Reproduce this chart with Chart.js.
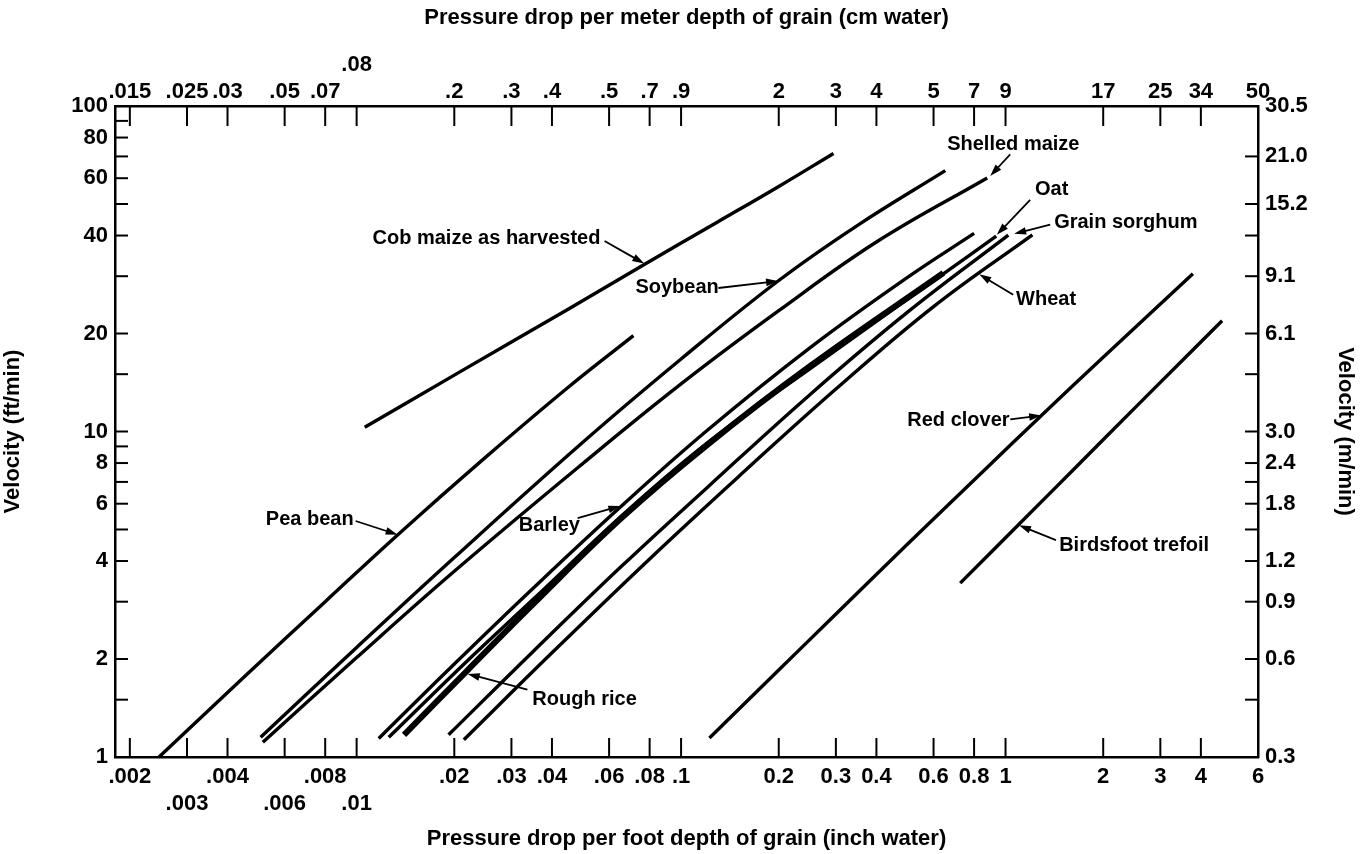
<!DOCTYPE html>
<html>
<head>
<meta charset="utf-8">
<script src="https://cdn.jsdelivr.net/npm/chart.js@4.4.1/dist/chart.umd.min.js"></script>
<style>
  html, body { margin: 0; padding: 0; background: #fff; }
</style>
</head>
<body>
<canvas id="c" width="1361" height="854"></canvas>
<script>
/* ── Curves: pressure drop (in. water / ft) vs velocity (ft/min) ── */
const cobX      = [0.01059, 0.02, 0.045, 0.077, 0.13, 0.2, 0.295];
const cobY      = [10.3, 14.9, 23.8, 32.6, 44.1, 56.6, 71.5];
const peaX      = [0.00246, 0.00455, 0.008, 0.0134, 0.025, 0.045, 0.0713];
const peaY      = [1, 1.78, 3.0, 4.82, 8.34, 13.7, 19.7];
const soyX      = [0.00506, 0.01, 0.02, 0.05, 0.1, 0.2, 0.35, 0.652];
const soyY      = [1.15, 2.17, 4.1, 9.3, 16.7, 29.1, 43, 63.3];
const shelledX  = [0.00514, 0.01, 0.02, 0.05, 0.1, 0.2, 0.4, 0.878];
const shelledY  = [1.11, 2.02, 3.72, 8.0, 14.0, 23.5, 38.2, 60.1];
const barleyX   = [0.0117, 0.02, 0.035, 0.065, 0.12, 0.25, 0.5, 0.8];
const barleyY   = [1.14, 1.93, 3.3, 5.86, 10.05, 18.1, 29.8, 40.6];
const oatX      = [0.01256, 0.022, 0.035, 0.0655, 0.12, 0.25, 0.643, 0.936];
const oatY      = [1.15, 1.98, 3.05, 5.5, 9.2, 15.6, 30.5, 39.8];
const riceX     = [0.014, 0.022, 0.035, 0.0655, 0.12, 0.25, 0.643];
const riceY     = [1.17, 1.85, 2.95, 5.42, 9.07, 15.9, 30.7];
const sorghumX  = [0.0192, 0.035, 0.066, 0.12, 0.25, 0.5, 1.02];
const sorghumY  = [1.17, 2.11, 3.88, 6.71, 13.0, 23.3, 40.1];
const wheatX    = [0.0214, 0.04, 0.08, 0.15, 0.3, 0.6, 1.21];
const wheatY    = [1.13, 2.09, 4.06, 7.25, 13.5, 24.2, 40.2];
const cloverX   = [0.1223, 0.2, 0.29, 0.5, 0.86, 1.29, 2.0, 3.78];
const cloverY   = [1.144, 1.85, 2.66, 4.52, 7.6, 11.2, 16.9, 30.5];
const trefoilX  = [0.725, 1.1, 1.65, 2.5, 3.5, 4.65];
const trefoilY  = [3.42, 5.19, 7.78, 11.8, 16.5, 21.9];

/* ── Axis ticks ── */
const bottomTicks  = [0.002, 0.003, 0.004, 0.006, 0.008, 0.01, 0.02, 0.03, 0.04, 0.06, 0.08, 0.1,
                      0.2, 0.3, 0.4, 0.6, 0.8, 1, 2, 3, 4, 6];
const bottomLabels = ['.002', '.003', '.004', '.006', '.008', '.01', '.02', '.03', '.04', '.06', '.08', '.1',
                      '0.2', '0.3', '0.4', '0.6', '0.8', '1', '2', '3', '4', '6'];
const bottomLow    = ['.003', '.006', '.01'];
const topLabels    = ['.015', '.025', '.03', '.05', '.07', '.08', '.2', '.3', '.4', '.5', '.7', '.9',
                      '2', '3', '4', '5', '7', '9', '17', '25', '34', '50'];
const topHigh      = ['.08'];
const leftTicks    = [1, 1.5, 2, 3, 4, 5, 6, 7, 8, 9, 10, 15, 20, 30, 40, 50, 60, 70, 80, 90, 100];
const leftLabelled = [1, 2, 4, 6, 8, 10, 20, 40, 60, 80, 100];
const rightTicks   = [1, 1.5, 2, 3, 4, 5, 6, 7, 8, 10, 15, 20, 30, 40, 50, 70, 100];
const rightLabels  = ['0.3', '', '0.6', '0.9', '1.2', '', '1.8', '', '2.4', '3.0', '', '6.1', '9.1', '', '15.2', '21.0', '30.5'];

/* ── Callouts (data coords: text anchor, arrow tail, arrow tip) ── */
const notes = [
  { text: 'Cob maize as harvested', at: [0.0564, 39.3], align: 'right', from: [0.0581, 38.5], to: [0.077, 32.8] },
  { text: 'Soybean',           at: [0.0723, 27.6],  align: 'left', from: [0.1303, 27.6], to: [0.199, 29.0] },
  { text: 'Shelled maize',     at: [0.661, 76],     align: 'left', from: [1.034, 71],    to: [0.897, 61.0] },
  { text: 'Oat',               at: [1.233, 55.5],   align: 'left', from: [1.191, 51.5],  to: [0.94, 40.2] },
  { text: 'Grain sorghum',     at: [1.412, 44.0],   align: 'left', from: [1.373, 43.2],  to: [1.063, 40.5] },
  { text: 'Wheat',             at: [1.078, 25.5],   align: 'left', from: [1.056, 26.3],  to: [0.830, 30.4] },
  { text: 'Red clover',        at: [0.498, 10.8],   align: 'left', from: [1.034, 10.9],  to: [1.288, 11.2] },
  { text: 'Pea bean',          at: [0.00525, 5.35], align: 'left', from: [0.00993, 5.31], to: [0.01338, 4.82] },
  { text: 'Barley',            at: [0.0316, 5.16],  align: 'left', from: [0.048, 5.42],  to: [0.065, 5.9] },
  { text: 'Rough rice',        at: [0.0348, 1.5],   align: 'left', from: [0.0336, 1.61], to: [0.022, 1.8] },
  { text: 'Birdsfoot trefoil', at: [1.463, 4.45],   align: 'left', from: [1.43, 4.64],   to: [1.10, 5.15] }
];

const FONT = 'Liberation Sans, Arial, sans-serif';
const pts = (xs, ys) => xs.map((x, i) => ({ x: x, y: ys[i] }));

function curve(xs, ys, w) {
  return {
    data: pts(xs, ys),
    borderColor: '#000',
    borderWidth: w || 3.4,
    pointRadius: 0,
    tension: 0.4,
    fill: false
  };
}

/* inward tick marks on all four sides */
const inwardTicks = {
  id: 'inwardTicks',
  afterDatasetsDraw(chart) {
    const ctx = chart.ctx, a = chart.chartArea;
    const sides = { x: [0, -1, a.bottom, 19], x2: [0, 1, a.top, 20], y: [1, 0, a.left, 13], y2: [-1, 0, a.right, 13] };
    ctx.save();
    ctx.strokeStyle = '#000';
    ctx.lineWidth = 2;
    for (const id in sides) {
      const s = chart.scales[id];
      const [dx, dy, base, len] = sides[id];
      s.ticks.forEach(t => {
        const p = s.getPixelForValue(t.value);
        ctx.beginPath();
        if (dy) { ctx.moveTo(p, base); ctx.lineTo(p, base + dy * len); }
        else    { ctx.moveTo(base, p); ctx.lineTo(base + dx * len, p); }
        ctx.stroke();
      });
    }
    ctx.restore();
  }
};

/* text callouts with arrows */
const callouts = {
  id: 'callouts',
  afterDatasetsDraw(chart) {
    const ctx = chart.ctx, sx = chart.scales.x, sy = chart.scales.y;
    const P = v => [sx.getPixelForValue(v[0]), sy.getPixelForValue(v[1])];
    ctx.save();
    ctx.fillStyle = '#000';
    ctx.strokeStyle = '#000';
    ctx.font = 'bold 20px ' + FONT;
    ctx.textBaseline = 'middle';
    notes.forEach(n => {
      const [tx, ty] = P(n.at);
      ctx.textAlign = n.align;
      ctx.fillText(n.text, tx, ty);
      const [fx, fy] = P(n.from), [px, py] = P(n.to);
      const ang = Math.atan2(py - fy, px - fx);
      const c = Math.cos(ang), s = Math.sin(ang);
      ctx.lineWidth = 1.8;
      ctx.beginPath();
      ctx.moveTo(fx, fy);
      ctx.lineTo(px - 7 * c, py - 7 * s);
      ctx.stroke();
      ctx.beginPath();
      ctx.moveTo(px, py);
      ctx.lineTo(px - 12 * c + 3.8 * s, py - 12 * s - 3.8 * c);
      ctx.lineTo(px - 12 * c - 3.8 * s, py - 12 * s + 3.8 * c);
      ctx.closePath();
      ctx.fill();
    });
    ctx.restore();
  }
};

const tickFont = { family: FONT, size: 22, weight: 'bold' };
const titleFont = { family: FONT, size: 22, weight: 'bold' };
const border = { display: true, color: '#000', width: 2.5 };
const grid = { display: true, drawOnChartArea: false, drawTicks: false };

new Chart(document.getElementById('c'), {
  type: 'line',
  data: {
    datasets: [
      curve(cobX, cobY),
      curve(peaX, peaY),
      curve(soyX, soyY),
      curve(shelledX, shelledY),
      curve(barleyX, barleyY),
      curve(oatX, oatY),
      curve(riceX, riceY, 6),
      curve(sorghumX, sorghumY),
      curve(wheatX, wheatY),
      curve(cloverX, cloverY),
      curve(trefoilX, trefoilY)
    ]
  },
  options: {
    responsive: false,
    animation: false,
    layout: { padding: 0 },
    plugins: { legend: { display: false }, tooltip: { enabled: false } },
    scales: {
      x: {
        type: 'logarithmic', position: 'bottom', min: 0.0018, max: 6,
        border, grid,
        afterBuildTicks: s => { s.ticks = bottomTicks.map(v => ({ value: v })); },
        afterFit: s => { s.height = 97; },
        ticks: {
          autoSkip: false, maxRotation: 0, padding: 7, color: '#000', font: tickFont,
          callback: (v, i) => bottomLow.includes(bottomLabels[i]) ? ['', bottomLabels[i]] : bottomLabels[i]
        },
        title: { display: true, text: 'Pressure drop per foot depth of grain (inch water)', color: '#000', font: titleFont, padding: { top: 0, bottom: 2 } }
      },
      x2: {
        type: 'logarithmic', position: 'top', min: 0.0018, max: 6,
        border, grid,
        afterBuildTicks: s => { s.ticks = bottomTicks.map(v => ({ value: v })); },
        afterFit: s => { s.height = 106; },
        ticks: {
          autoSkip: false, maxRotation: 0, padding: 1, color: '#000', font: tickFont,
          callback: (v, i) => topHigh.includes(topLabels[i]) ? [topLabels[i], ''] : topLabels[i]
        },
        title: { display: true, text: 'Pressure drop per meter depth of grain (cm water)', color: '#000', font: titleFont, padding: { top: 5, bottom: 0 } }
      },
      y: {
        type: 'logarithmic', position: 'left', min: 1, max: 100,
        border, grid,
        afterBuildTicks: s => { s.ticks = leftTicks.map(v => ({ value: v })); },
        afterFit: s => { s.width = 115; },
        ticks: {
          autoSkip: false, padding: 7, color: '#000', font: tickFont,
          callback: v => leftLabelled.includes(v) ? String(v) : ''
        },
        title: { display: true, text: 'Velocity (ft/min)', color: '#000', font: titleFont, padding: { top: 0, bottom: 6 } }
      },
      y2: {
        type: 'logarithmic', position: 'right', min: 1, max: 100,
        border, grid,
        afterBuildTicks: s => { s.ticks = rightTicks.map(v => ({ value: v })); },
        afterFit: s => { s.width = 103; },
        ticks: {
          autoSkip: false, padding: 7, color: '#000', font: tickFont,
          callback: (v, i) => rightLabels[i]
        },
        title: { display: true, text: 'Velocity (m/min)', color: '#000', font: titleFont, padding: { top: 3, bottom: 0 } }
      }
    }
  },
  plugins: [inwardTicks, callouts]
});
</script>
</body>
</html>
